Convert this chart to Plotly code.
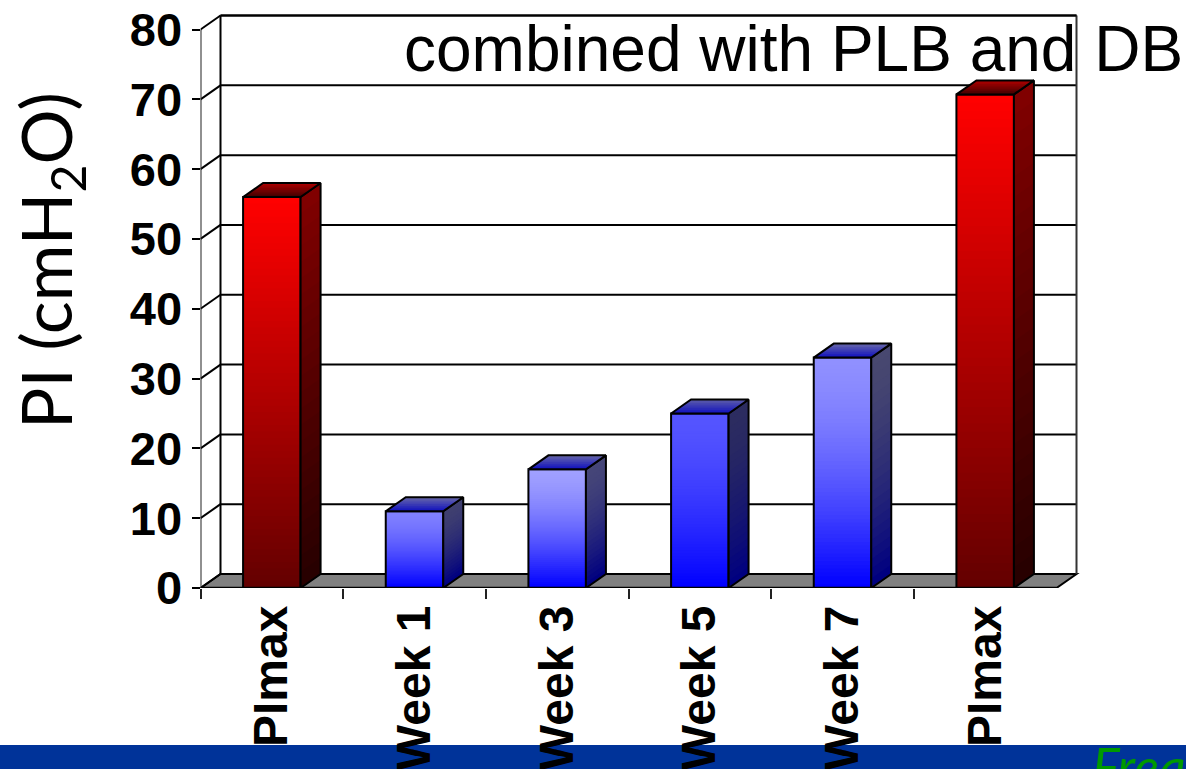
import numpy as np
import plotly.graph_objects as go

categories = ["PImax", "Week 1", "Week 3", "Week 5", "Week 7", "PImax"]
values = [56, 11, 17, 25, 33, 70.7]
y_ticks = [0, 10, 20, 30, 40, 50, 60, 70, 80]

W, H = 1186, 769
X0, X1 = 200.5, 1056.5
Y0, Y80 = 588.0, 29.5
SX = (X1 - X0) / 6
SY = (Y0 - Y80) / 80
DX = 20 / SX
DY = 14 / SY
BW = 57.5 / SX
PAD = 4

front_top = [(255, 0, 0), (128, 128, 255), (160, 160, 255), (85, 85, 255), (144, 144, 255), (255, 0, 0)]
front_bot = [(100, 0, 0), (0, 0, 255), (0, 0, 255), (0, 0, 255), (0, 0, 255), (100, 0, 0)]
side_top = [(128, 0, 0), (64, 64, 112), (70, 70, 120), (44, 44, 96), (72, 72, 112), (128, 0, 0)]
side_bot = [(40, 0, 0), (0, 0, 128), (0, 0, 128), (0, 0, 128), (0, 0, 128), (40, 0, 0)]
top_back = [(170, 0, 0), (100, 100, 170), (100, 100, 170), (90, 90, 170), (100, 100, 170), (170, 0, 0)]
top_front = [(70, 0, 0), (20, 20, 190), (20, 20, 190), (20, 20, 190), (20, 20, 190), (70, 0, 0)]
easing = [1.0, 1.5, 1.5, 1.5, 1.5, 1.0]


def mix(a, b, t):
    return "rgb(%d,%d,%d)" % tuple(round(a[k] + (b[k] - a[k]) * t) for k in range(3))


fig = go.Figure()


def poly(xs, ys, fill=None, line=None, lw=0):
    fig.add_trace(go.Scatter(
        x=xs, y=ys, mode="lines", cliponaxis=False, showlegend=False, hoverinfo="skip",
        fill="toself" if fill else None, fillcolor=fill,
        line=dict(color=line or "rgba(0,0,0,0)", width=lw),
    ))


def seg(x0, y0, x1, y1, color="black", w=2):
    return dict(type="line", xref="x", yref="y", x0=x0, y0=y0, x1=x1, y1=y1,
                line=dict(color=color, width=w), layer="below")


# background, beneath the bars: floor, back wall gridlines and edges
background = [dict(type="path", xref="x", yref="y", layer="below",
                   path=f"M 0 0 L {DX} {DY} L {6 + DX} {DY} L 6 0 Z",
                   fillcolor="#808080", line=dict(color="black", width=2))]
background += [seg(DX, v + DY, 6 + DX, v + DY) for v in y_ticks[1:]]
background += [seg(DX, DY, DX, 80 + DY), seg(6 + DX, DY, 6 + DX, 80 + DY, "#333")]
background += [dict(type="rect", xref="paper", yref="paper", x0=-1, x1=2, y0=-1, y1=24 / H,
                    fillcolor="#003399", line=dict(width=0), layer="below")]

# side wall lines and front axis line
for v in y_ticks:
    poly([0, DX], [v, v + DY], line="black", lw=2)
poly([0, 0], [0, 80], line="#222", lw=2)

centers = [i + 0.5 for i in range(len(values))]
N_FRONT, N_SIDE, N_TOP = 60, 24, 8
for i, (c, v) in enumerate(zip(centers, values)):
    l, r = c - BW / 2, c + BW / 2
    # side face
    for k in range(N_SIDE):
        t = (k / (N_SIDE - 1)) ** easing[i]
        h = v * (1 - k / N_SIDE)
        poly([r, r + DX, r + DX, r, r], [0, DY, h + DY, h, 0], fill=mix(side_top[i], side_bot[i], t))
    poly([r, r + DX, r + DX, r, r], [0, DY, v + DY, v, 0], line="black", lw=2)
    # top face
    for k in range(N_TOP):
        t = k / (N_TOP - 1)
        f = 1 - k / N_TOP
        poly([l, l + DX * f, r + DX * f, r, l], [v, v + DY * f, v + DY * f, v, v],
             fill=mix(top_back[i], top_front[i], t))
    poly([l, l + DX, r + DX, r, l], [v, v + DY, v + DY, v, v], line="black", lw=2)
    # front face, drawn through bars of decreasing height
    fracs = 1 - np.arange(N_FRONT) / N_FRONT
    fig.add_trace(go.Bar(
        x=[c] * N_FRONT, y=v * fracs, width=BW, showlegend=False, hoverinfo="skip",
        marker=dict(color=[mix(front_top[i], front_bot[i], (k / (N_FRONT - 1)) ** easing[i]) for k in range(N_FRONT)],
                    line=dict(width=0)),
    ))
    fig.add_trace(go.Bar(
        x=[c], y=[v], width=BW, showlegend=False, hoverinfo="skip",
        marker=dict(color="rgba(0,0,0,0)", line=dict(color="black", width=2)),
    ))

# front floor edge, above the bars' bottoms
poly([0, 6], [0, 0], line="black", lw=2.5)
# top edge of the back wall
poly([DX, 6 + DX], [80 + DY, 80 + DY], line="black", lw=2)

fig.update_layout(
    width=W, height=H, margin=dict(l=0, r=0, t=0, b=0, autoexpand=False), autosize=False,
    barmode="overlay", paper_bgcolor="white", plot_bgcolor="white",
    showlegend=False, font=dict(family="Liberation Sans", color="black"),
    xaxis=dict(
        automargin=False,
        domain=[X0 / W, (X1 + 20 + PAD) / W], range=[0, 6 + DX + PAD / SX], tickmode="array", tickvals=centers,
        ticktext=categories,
        tickangle=-90, ticks="", ticklabelstandoff=7, showgrid=False, zeroline=False, showline=False,
        tickfont=dict(family="Liberation Sans", size=48, color="black", weight="bold"),
        minor=dict(tickmode="array", tickvals=list(range(6)), ticks="outside", ticklen=10, tickwidth=2,
                   tickcolor="#222", showgrid=False),
    ),
    yaxis=dict(
        automargin=False,
        domain=[(H - Y0) / H, (H - Y80 + 14 + PAD) / H], range=[0, 80 + DY + PAD / SY], tickmode="array",
        tickvals=y_ticks,
        ticks="outside", ticklen=8, tickwidth=2, tickcolor="black", showgrid=False, zeroline=False,
        showline=False,
        tickfont=dict(family="Liberation Sans", size=47, color="black", weight="bold"),
    ),
    shapes=background,
    annotations=[
        dict(text="combined with PLB and DB", xref="paper", yref="paper", x=402 / W, y=1 - 49 / H,
             xanchor="left", yanchor="middle", showarrow=False,
             font=dict(family="Liberation Sans", size=64, color="black")),
        dict(text="PI (cmH<sub>2</sub>O)", xref="paper", yref="paper", x=50 / W, y=1 - 261 / H,
             textangle=-90, xanchor="center", yanchor="middle", showarrow=False,
             font=dict(family="Lato", size=69, color="black")),
        dict(text="<i>Freq</i>", xref="paper", yref="paper", x=1090 / W, y=1 - 733 / H,
             xanchor="left", yanchor="top", showarrow=False,
             font=dict(family="Lato", size=52, color="#009900")),
    ],
)

fig.write_html("out.html", config={"displayModeBar": False},
               post_script="document.body.style.margin='0';document.body.style.overflow='hidden';")
